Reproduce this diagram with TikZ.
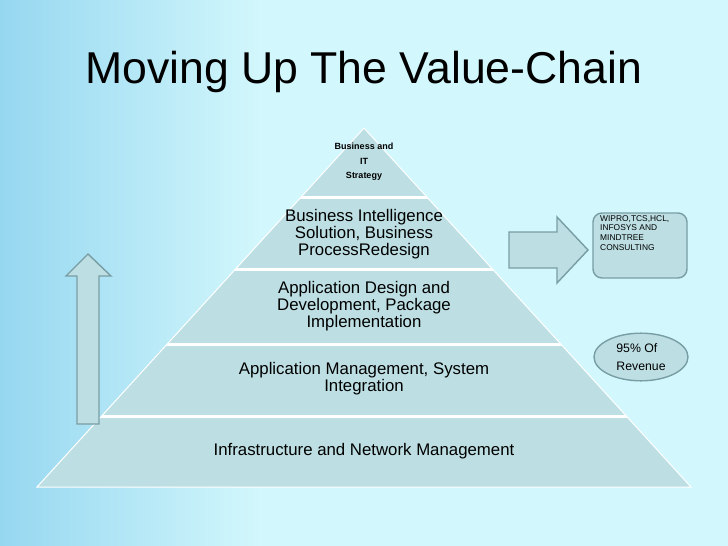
\documentclass[tikz,border=0pt]{standalone}
\usepackage{fontspec}
\setmainfont{Liberation Sans}
\usetikzlibrary{positioning, shapes.geometric}

\definecolor{bgLight}{RGB}{210,247,252}
\definecolor{bgBlue}{RGB}{150,215,240}
\definecolor{layerFill}{RGB}{189,223,227}
\definecolor{shapeLine}{RGB}{120,158,165}

\begin{document}
\begin{tikzpicture}[x=1pt, y=-1pt,
        layer_text/.style={align=center, font=\fontsize{16.8}{17.3}\selectfont},
        block_arrow/.style={draw=shapeLine, fill=layerFill, line width=1.4pt, line join=miter},
        note_box/.style={rectangle, rounded corners=9pt, draw=shapeLine, fill=layerFill, line width=1.4pt, minimum width=94pt, minimum height=65pt},
        note_oval/.style={ellipse, draw=shapeLine, fill=layerFill, line width=1.4pt, minimum width=94pt, minimum height=46pt, align=left, font=\fontsize{12.3}{18}\selectfont}
    ]
        % --- BACKGROUND ---
        \useasboundingbox (0,0) rectangle (728,546);
        \fill[bgLight] (0,0) rectangle (728,546);
        \shade[left color=bgBlue, right color=bgLight] (0,0) rectangle (260,546);

        % --- TITLE ---
        \node[anchor=base west, inner sep=0pt, font=\fontsize{44.6}{44.6}\selectfont] (title) at (85,83) {Moving Up The Value-Chain};

        % --- PYRAMID ---
        \fill[layerFill] (364,128) -- (691,487) -- (37,487) -- cycle;
        \begin{scope}
            \clip (364,128) -- (691,487) -- (37,487) -- cycle;
            \foreach \yy in {197.5, 269.5, 344.5, 416.5}
                \draw[white, line width=3pt] (0,\yy) -- (728,\yy);
        \end{scope}
        \draw[white, line width=1pt] (364,128) -- (691,487) -- (37,487) -- cycle;

        % --- NODES ---
        \node[align=center, font=\fontsize{9}{14.5}\selectfont\bfseries] (strategy) at (364,162) {Business and\\IT\\Strategy};
        \node[layer_text] (bi) at (364,234) {Business Intelligence\\Solution, Business\\ProcessRedesign};
        \node[layer_text] (appdesign) at (364,306) {Application Design and\\Development, Package\\Implementation};
        \node[layer_text] (appmgmt) at (364,379) {Application Management, System\\Integration};
        \node[layer_text] (infra) at (364,451) {Infrastructure and Network Management};

        \node[note_box] (players) at (640,245.5) {};
        \node[anchor=north west, align=left, inner sep=0pt, font=\fontsize{8.4}{9.7}\selectfont] (playerstext) at (600,215) {WIPRO,TCS,HCL,\\INFOSYS AND\\MINDTREE\\CONSULTING};
        \node[note_oval] (revenue) at (641,357) {95\% Of\\Revenue};

        % --- ARROWS ---
        \draw[block_arrow] (77,424) -- (77,276) -- (66,276) -- (88,254) -- (111,276) -- (99,276) -- (99,424) -- cycle;
        \draw[block_arrow] (509,232) -- (557,232) -- (557,217) -- (588,250) -- (557,283) -- (557,268) -- (509,268) -- cycle;

    \end{tikzpicture}
\end{document}
